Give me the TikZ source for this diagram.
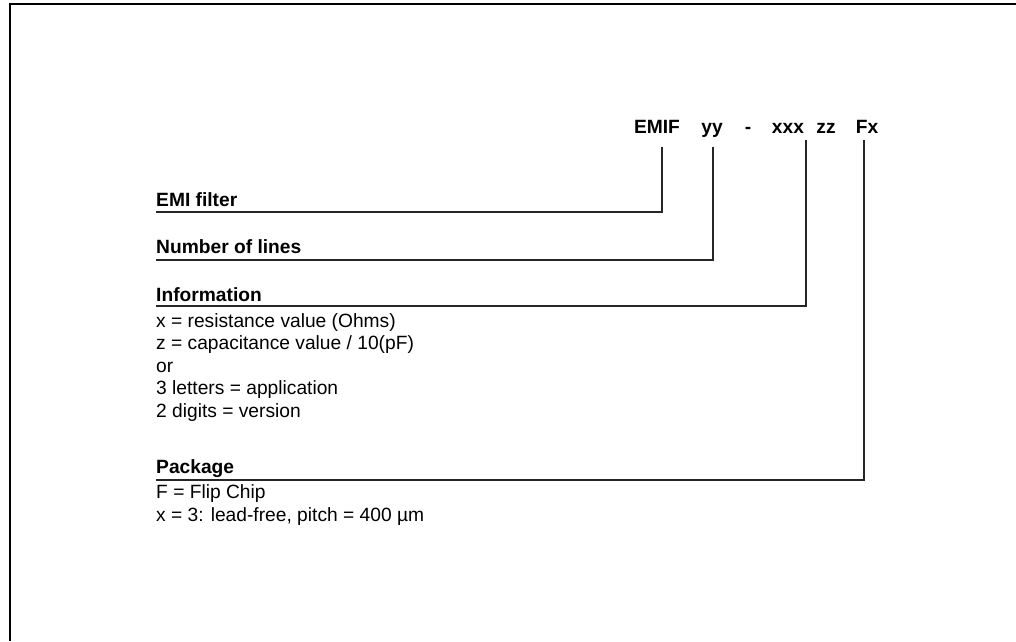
\documentclass[tikz,border=0pt]{standalone}
\usepackage{fontspec}
\setmainfont{Liberation Sans}
\tikzset{
    ttl/.style={font=\fontsize{19.2}{22.5}\selectfont\bfseries,inner sep=0pt,anchor=base},
    lbl/.style={font=\fontsize{19.2}{22.5}\selectfont\bfseries,inner sep=0pt,anchor=base west},
    txt/.style={font=\fontsize{19.2}{22.5}\selectfont,inner sep=0pt,anchor=base west},
    lead/.style={line width=1.6pt,black!85}
}
\begin{document}
\begin{tikzpicture}[x=1pt,y=-1pt]
    \useasboundingbox (0,0) rectangle (1016,641);
    %Marco
    \draw[line width=2pt,black] (10,641) -- (10,4) -- (1016,4);

    %Codigo
    \node[ttl] (ttlE) at (657,133) {EMIF};
    \node[ttl] (ttlY) at (712,133) {yy};
    \node[ttl] (ttlD) at (748,133) {-};
    \node[ttl] (ttlX) at (788,133) {xxx};
    \node[ttl] (ttlZ) at (826,133) {zz};
    \node[ttl] (ttlF) at (867,133) {Fx};

    %Etiquetas
    \node[lbl] (lblE) at (156,206) {EMI filter};
    \node[lbl] (lblY) at (156,253) {Number of lines};
    \node[lbl] (lblX) at (156,301) {Information};
    \node[lbl] (lblF) at (156,473) {Package};

    \foreach \t [count=\i, evaluate={\y=327+(\i-1)*22.5}] in
        {x = resistance value (Ohms),z = capacitance value / 10(pF),or,3 letters = application,2 digits = version}{
        \node[txt] (info\i) at (156,\y) {\t};
    }
    \node[txt] (pack1) at (156,498) {F = Flip Chip};
    \node[txt] (pack2) at (156,521) {x = 3: lead-free, pitch = 400 µm};

    %Lineas
    \draw[lead] ([xshift=5pt,yshift=-14pt]ttlE.base) |- ([yshift=-6pt]lblE.base west);
    \draw[lead] ([xshift=1pt,yshift=-14pt]ttlY.base) |- ([yshift=-7pt]lblY.base west);
    \draw[lead] ([xshift=18pt,yshift=-7pt]ttlX.base) |- ([yshift=-5pt]lblX.base west);
    \draw[lead] ([xshift=-3pt,yshift=-7pt]ttlF.base) |- ([yshift=-7pt]lblF.base west);
\end{tikzpicture}
\end{document}
